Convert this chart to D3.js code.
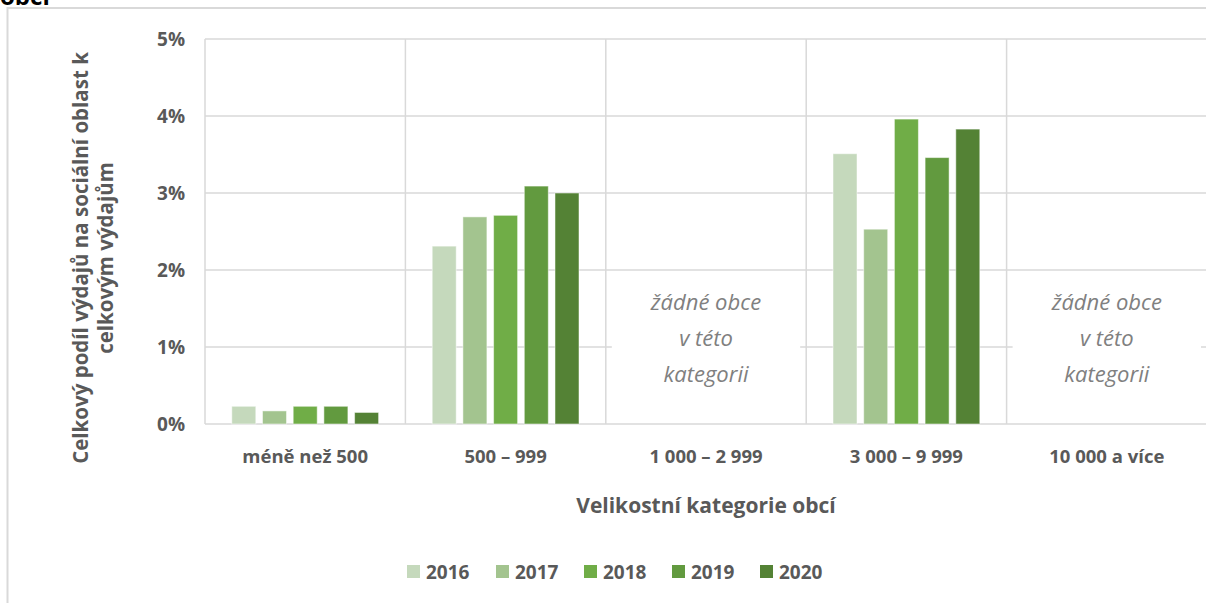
<!DOCTYPE html>
<html>
<head>
<meta charset="utf-8">
<script src="https://cdn.jsdelivr.net/npm/d3@7/dist/d3.min.js"></script>
<style>
  html, body { margin: 0; padding: 0; background: #fff; }
  svg { display: block; }
  text { font-family: "Open Sans", Lato, sans-serif; }
</style>
</head>
<body>
<svg id="chart" width="1206" height="603"></svg>
<script>
const categories = ["méně než 500", "500 – 999", "1 000 – 2 999", "3 000 – 9 999", "10 000 a více"];
const years = ["2016", "2017", "2018", "2019", "2020"];
const colors = ["#c5d9bc", "#a3c48f", "#70ad47", "#629a3f", "#548235"];
// values in % per year, null = no municipality in category
const v2016 = [0.23, 2.31, null, 3.51, null];
const v2017 = [0.17, 2.69, null, 2.53, null];
const v2018 = [0.23, 2.71, null, 3.96, null];
const v2019 = [0.23, 3.09, null, 3.46, null];
const v2020 = [0.15, 3.00, null, 3.83, null];
const yTicks = [0, 1, 2, 3, 4, 5];
const noDataText = ["žádné obce", "v této", "kategorii"];
const yTitle = ["Celkový podíl výdajů na sociální oblast k", "celkovým výdajům"];
const xTitle = "Velikostní kategorie obcí";

const series = [v2016, v2017, v2018, v2019, v2020];
const svg = d3.select("#chart");

// frame & cut-off title
svg.append("text").attr("x", 0).attr("y", 5).attr("font-size", 24).attr("font-weight", 700)
  .attr("fill", "#000").text("obcí");
svg.append("rect").attr("x", 7.5).attr("y", 8).attr("width", 1210).attr("height", 620)
  .attr("fill", "none").attr("stroke", "#d9d9d9").attr("stroke-width", 2);

const x = d3.scaleBand().domain(categories).range([205, 1207]).padding(0);
const y = d3.scaleLinear().domain([0, 5]).range([424, 39]);
const xi = d3.scaleBand().domain(years).range([0, 146.8]).paddingInner(0.218).paddingOuter(0);

// horizontal gridlines
svg.append("g").selectAll("line").data(yTicks).join("line")
  .attr("x1", 205).attr("x2", 1207)
  .attr("y1", d => y(d)).attr("y2", d => y(d))
  .attr("stroke", "#d9d9d9").attr("stroke-width", 1.5);
// vertical gridlines
const vEdges = categories.map(c => x(c)).concat([x.range()[1]]);
svg.append("g").selectAll("line").data(vEdges).join("line")
  .attr("x1", d => d).attr("x2", d => d)
  .attr("y1", y(5)).attr("y2", y(0))
  .attr("stroke", "#d9d9d9").attr("stroke-width", 1.5);

// bars
categories.forEach((c, ci) => {
  const cx = x(c) + x.bandwidth() / 2;
  const g0 = cx - 146.8 / 2;
  const vals = series.map(s => s[ci]);
  if (vals.every(v => v === null)) {
    // no-data annotation box
    svg.append("rect").attr("x", x(c) + 6).attr("y", y(1.85)).attr("width", x.bandwidth() - 12)
      .attr("height", y(0.4) - y(1.85)).attr("fill", "#fff");
    svg.append("g").selectAll("text").data(noDataText).join("text")
      .attr("x", cx).attr("y", (d, i) => 310 + i * 36)
      .attr("text-anchor", "middle").attr("font-size", 22).attr("font-style", "italic")
      .attr("fill", "#808080").text(d => d);
    return;
  }
  svg.append("g").selectAll("rect").data(years).join("rect")
    .attr("x", (d, i) => g0 + xi(d))
    .attr("width", xi.bandwidth())
    .attr("y", (d, i) => y(vals[i]))
    .attr("height", (d, i) => y(0) - y(vals[i]))
    .attr("fill", (d, i) => colors[i])
    .attr("stroke", "#ffffff").attr("stroke-opacity", 0.5).attr("stroke-width", 1);
});

// y tick labels
svg.append("g").selectAll("text").data(yTicks).join("text")
  .attr("x", 185).attr("y", d => y(d) + 7)
  .attr("text-anchor", "end").attr("font-size", 19).attr("font-weight", 700)
  .attr("fill", "#595959").text(d => d + "%");

// x tick labels
svg.append("g").selectAll("text").data(categories).join("text")
  .attr("x", d => x(d) + x.bandwidth() / 2).attr("y", 463)
  .attr("text-anchor", "middle").attr("font-size", 18.5).attr("font-weight", 700)
  .attr("fill", "#595959").text(d => d);

// x title
svg.append("text").attr("x", 706).attr("y", 513).attr("text-anchor", "middle")
  .attr("font-size", 21).attr("font-weight", 700).attr("fill", "#595959").text(xTitle);

// y title
const yt = svg.append("text").attr("transform", "translate(0,258) rotate(-90)")
  .attr("text-anchor", "middle").attr("font-size", 20.5).attr("font-weight", 700).attr("fill", "#595959");
yTitle.forEach((t, i) => {
  yt.append("tspan").attr("x", 0).attr("y", 88 + i * 25).text(t);
});

// legend
const legX = [407, 496, 584, 672, 760];
const leg = svg.append("g").selectAll("g").data(years).join("g")
  .attr("transform", (d, i) => `translate(${legX[i]},565)`);
leg.append("rect").attr("width", 13).attr("height", 13).attr("fill", (d, i) => colors[i]);
leg.append("text").attr("x", 19).attr("y", 14).attr("font-size", 19).attr("font-weight", 700)
  .attr("fill", "#595959").text(d => d);
</script>
</body>
</html>
